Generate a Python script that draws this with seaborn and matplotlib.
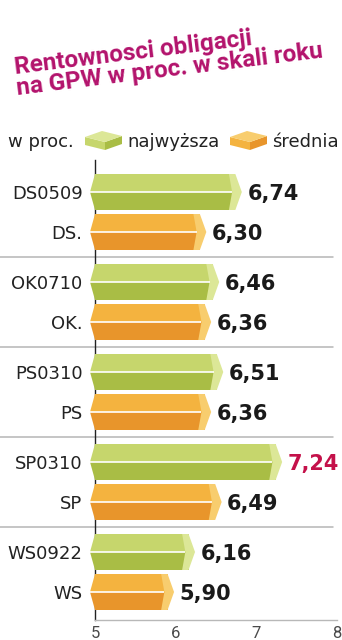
import matplotlib
matplotlib.use("Agg")
import matplotlib.pyplot as plt
import matplotlib.transforms as mtransforms
from matplotlib.patches import Polygon, Rectangle
import pandas as pd
import seaborn as sns

# ---- data -------------------------------------------------------------
labels_high = ["DS0509", "OK0710", "PS0310", "SP0310", "WS0922"]
labels_avg = ["DS.", "OK.", "PS", "SP", "WS"]
values_high = [6.74, 6.46, 6.51, 7.24, 6.16]
values_avg = [6.30, 6.36, 6.36, 6.49, 5.90]
series_names = ["najwyższa", "średnia"]
x_ticks = [5, 6, 7, 8]
title_lines = ["Rentownosci obligacji", "na GPW w proc. w skali roku"]
unit_label = "w proc."
highlight = "SP0310"

# ---- styling ----------------------------------------------------------
face_top = {"najwyższa": "#c6d66c", "średnia": "#f4b33f"}
face_bot = {"najwyższa": "#a9bd45", "średnia": "#e8952b"}
cap_col = {"najwyższa": "#dce797", "średnia": "#f8cd6e"}
title_color = "#b3136c"
hi_color = "#c4114a"

W, H = 342, 640
GROUP_STEP, PAIR_STEP = 9, 4

rows = []
for g, (lh, la, vh, va) in enumerate(zip(labels_high, labels_avg, values_high, values_avg)):
    rows.append({"label": lh, "value": vh, "series": series_names[0], "pos": g * GROUP_STEP})
    rows.append({"label": la, "value": va, "series": series_names[1], "pos": g * GROUP_STEP + PAIR_STEP})
df = pd.DataFrame(rows)

sns.set_theme(style="white")
plt.rcParams["font.family"] = ["DejaVu Sans"]

fig = plt.figure(figsize=(W / 100, H / 100), dpi=100)
fig.patch.set_facecolor("white")
ax = fig.add_axes([95 / W, 20 / H, 242 / W, 460 / H])

sns.barplot(data=df, x="value", y="pos", hue="series", hue_order=series_names,
            palette=face_bot, orient="y", native_scale=True, dodge=False,
            width=0.9, errorbar=None, legend=False, saturation=1,
            linewidth=0, ax=ax, zorder=3)

ax.set_xlim(5, 8)
ax.set_ylim(42.8, -3.2)

# 3D prism look: lighter upper facet, white ridge, pointed ends
lookup = {row.pos: row for row in df.itertuples()}
tip_l = 5 - 5 / 80.67
for bar in list(ax.patches):
    y0, h = bar.get_y(), bar.get_height()
    mid = y0 + h / 2
    row = lookup[min(lookup, key=lambda p: abs(p - mid))]
    v, s = row.value, row.series
    ax.add_patch(Rectangle((0, y0), v, h / 2, facecolor=face_top[s], lw=0, zorder=3.1))
    ax.add_patch(Polygon([(5, y0), (tip_l, mid), (5, mid)], closed=True,
                         facecolor=face_top[s], lw=0, zorder=3.1, clip_on=False))
    ax.add_patch(Polygon([(5, mid), (tip_l, mid), (5, y0 + h)], closed=True,
                         facecolor=face_bot[s], lw=0, zorder=3.1, clip_on=False))
    ax.add_patch(Polygon([(v - 0.08, y0), (v, y0), (v + 0.08, mid), (v, y0 + h),
                          (v - 0.08, y0 + h), (v - 0.04, mid)], closed=True,
                         facecolor=cap_col[s], lw=0, zorder=3.2))
    ax.plot([tip_l, v - 0.04], [mid, mid], color="white", lw=1.2,
            zorder=3.3, clip_on=False, solid_capstyle="butt")
    ax.annotate(f"{v:.2f}".replace(".", ","), xy=(v, mid), xytext=(12, -7.6),
                textcoords="offset pixels", ha="left", va="baseline",
                fontsize=15, fontweight="bold",
                color=hi_color if row.label == highlight else "#1a1a1a",
                zorder=4)

# group separators
for g in range(1, len(labels_high)):
    yy = g * GROUP_STEP - (GROUP_STEP - PAIR_STEP) / 2
    ax.plot([-95 / 242, 0.985], [yy, yy], transform=ax.get_yaxis_transform(),
            color="#b5b5b5", lw=1.1, clip_on=False, zorder=1)

ax.set_yticks(df["pos"])
ax.set_yticklabels(df["label"], fontsize=13, color="#222222")
ax.tick_params(axis="y", length=0, pad=9)
ax.set_xticks(x_ticks)
ax.set_xticklabels([str(t) for t in x_ticks])
ax.tick_params(axis="x", direction="in", length=5, width=1, color="#aaaaaa",
               pad=4, labelsize=12)
for lbl in ax.get_xticklabels():
    lbl.set_fontfamily(["Roboto", "DejaVu Sans"])
    lbl.set_fontweight("normal")
    lbl.set_color("#4a4a4a")
ax.set_xlabel("")
ax.set_ylabel("")
for side in ("top", "right"):
    ax.spines[side].set_visible(False)
ax.spines["left"].set_color("#222222")
ax.spines["left"].set_linewidth(1.0)
ax.spines["left"].set_zorder(2)
ax.spines["bottom"].set_color("#b8b8b8")
ax.spines["bottom"].set_linewidth(1.0)

# pixel coordinates measured from the top-left corner of the figure
px = mtransforms.Affine2D().scale(1 / W, -1 / H).translate(0, 1) + fig.transFigure

# title, set on a slant
title_font = ["Roboto", "DejaVu Sans"]
fig.text(15, 74, title_lines[0], transform=px, rotation=7, rotation_mode="anchor",
         ha="left", va="baseline", fontsize=17.5, fontweight="bold", color=title_color,
         family=title_font)
fig.text(17, 95, title_lines[1], transform=px, rotation=7, rotation_mode="anchor",
         ha="left", va="baseline", fontsize=17.5, fontweight="bold", color=title_color,
         family=title_font)

# legend row with small box icons
fig.text(8, 147, unit_label, transform=px, ha="left", va="baseline",
         fontsize=13, color="#222222")


def box_icon(x0, series):
    top = [(x0, 137), (x0 + 17, 131), (x0 + 37, 136), (x0 + 20, 142)]
    left = [(x0, 137), (x0 + 20, 142), (x0 + 20, 150), (x0, 145)]
    right = [(x0 + 20, 142), (x0 + 37, 136), (x0 + 37, 144), (x0 + 20, 150)]
    for pts, col in ((left, face_top[series]), (right, face_bot[series]), (top, cap_col[series])):
        fig.patches.append(Polygon(pts, closed=True, facecolor=col, lw=0, transform=px))


box_icon(85, series_names[0])
fig.text(127, 147, series_names[0], transform=px, ha="left", va="baseline",
         fontsize=13, color="#222222")
box_icon(230, series_names[1])
fig.text(272, 147, series_names[1], transform=px, ha="left", va="baseline",
         fontsize=13, color="#222222")

fig.savefig("out.png", dpi=100, facecolor="white")
